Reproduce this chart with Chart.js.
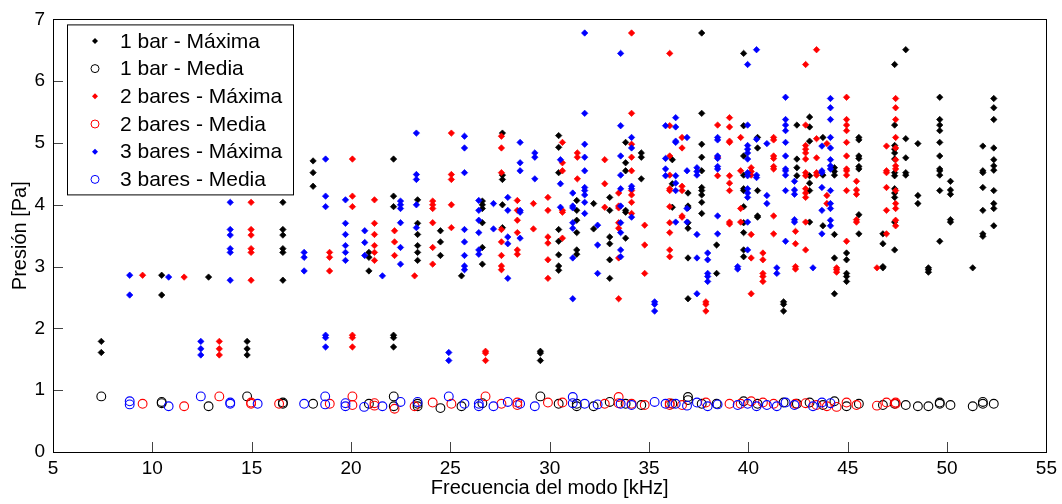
<!DOCTYPE html>
<html>
<head>
<meta charset="utf-8">
<script src="https://cdn.jsdelivr.net/npm/chart.js@4.4.1/dist/chart.umd.min.js"></script>
<style>
  body { margin: 0; background: #fff; }
  #wrap { width: 1062px; height: 504px; }
</style>
</head>
<body>
<div id="wrap"><canvas id="chart" width="1062" height="504"></canvas></div>
<script>
// each column: [frecuencia kHz, presiones Pa...]
const bar1MaxCols = [
  [7.43, 1.79, 1.61],
  [10.47, 2.86, 2.54],
  [12.83, 2.83],
  [14.77, 1.79, 1.67, 1.57],
  [16.57, 4.04, 3.60, 3.51, 3.29, 3.23, 2.78],
  [18.09, 4.71, 4.52, 4.30],
  [20.90, 3.23, 3.15, 2.93],
  [22.14, 4.74, 4.14, 3.97, 1.89, 1.85, 1.70],
  [23.35, 4.08, 3.70, 3.52, 3.34, 3.23, 3.10],
  [24.50, 3.58, 3.40, 3.18],
  [25.56, 2.85],
  [26.61, 4.06, 4.00, 3.94, 3.71, 3.31, 3.04],
  [27.62, 5.16, 4.48, 4.41, 4.00, 3.63],
  [29.53, 1.63, 1.60, 1.48],
  [30.45, 5.12, 4.93, 4.52, 3.60, 3.41, 3.19, 3.01, 2.94],
  [31.36, 4.07, 3.91, 3.75, 3.55, 3.27, 3.20],
  [32.21, 4.02, 3.61],
  [33.02, 4.12, 3.91, 3.48, 3.37, 3.11, 2.81],
  [33.82, 5.01, 4.68, 4.55, 3.91, 3.88, 3.46],
  [34.61, 4.84, 4.77, 4.42],
  [36.17, 4.73, 4.34, 3.96],
  [36.96, 4.19, 3.98, 3.95, 3.71, 3.62, 3.14, 2.48],
  [37.65, 6.78, 5.48, 4.98, 4.77, 4.55, 4.28, 4.23, 4.16, 4.04, 3.86],
  [38.40, 3.35, 2.89],
  [39.76, 6.45, 5.28, 4.79, 4.48, 4.26, 4.23, 3.97, 3.71, 3.55, 3.27, 3.16],
  [40.46, 5.09, 4.92, 4.23, 3.82, 3.80],
  [41.77, 2.43, 2.39, 2.28],
  [42.44, 5.29, 4.74, 4.60, 4.47],
  [43.08, 5.42, 5.26, 5.03, 4.47, 4.35, 4.23, 3.72],
  [43.75, 5.09, 4.48, 3.66],
  [44.33, 4.60, 4.54, 4.48, 3.52, 3.14, 2.56],
  [44.94, 3.22, 3.11, 2.89, 2.84, 2.76],
  [45.56, 5.09, 5.05, 4.79, 4.75, 4.62, 4.58, 3.84, 3.53],
  [46.77, 3.53, 3.37, 3.00, 2.98],
  [47.36, 6.27, 5.29, 4.96, 4.90, 4.84, 4.74, 4.52, 4.47, 4.26, 4.19, 4.12, 3.72, 3.27],
  [47.92, 6.51, 5.07, 4.76, 4.52, 4.48],
  [48.53, 4.99, 4.15, 4.02],
  [49.06, 2.98, 2.95, 2.91],
  [49.63, 5.74, 5.38, 5.29, 5.20, 5.01, 4.79, 4.58, 4.55, 4.48, 4.23, 3.41],
  [50.17, 4.38, 4.24, 4.17, 3.76, 3.72],
  [51.29, 2.98],
  [51.80, 4.95, 4.55, 4.52, 4.28, 3.91, 3.53, 3.49],
  [52.35, 5.72, 5.57, 5.38, 4.92, 4.73, 4.63, 4.56, 4.23, 4.02, 3.94, 3.66]
];

const bar2MaxCols = [
  [9.51, 2.86],
  [11.60, 2.83],
  [13.37, 1.79, 1.67, 1.57],
  [14.97, 4.04, 3.60, 3.51, 3.29, 3.23, 2.78],
  [18.92, 3.23, 3.15, 2.93],
  [20.07, 4.74, 4.14, 3.97, 1.89, 1.85, 1.70],
  [21.18, 4.08, 3.70, 3.52, 3.34, 3.23, 3.10],
  [22.19, 3.58, 3.40, 3.18],
  [23.20, 2.85],
  [24.11, 4.06, 4.00, 3.94, 3.71, 3.31, 3.04],
  [25.05, 5.16, 4.49, 4.41, 4.00, 3.63],
  [26.77, 1.63, 1.60, 1.48],
  [27.57, 5.11, 4.92, 4.52, 3.60, 3.40, 3.18, 3.01, 2.95],
  [28.37, 4.07, 3.91, 3.75, 3.55, 3.27, 3.20],
  [29.18, 4.02, 3.61],
  [29.91, 4.12, 3.91, 3.48, 3.38, 3.11, 2.81],
  [30.64, 5.01, 4.68, 4.55, 3.91, 3.88, 3.46],
  [31.39, 4.84, 4.77, 4.42],
  [32.77, 4.73, 4.34, 3.96],
  [33.47, 4.19, 3.98, 3.95, 3.71, 3.62, 3.14, 2.48],
  [34.12, 6.78, 5.48, 4.98, 4.77, 4.55, 4.23, 4.16, 4.04, 3.86],
  [34.78, 3.67, 3.35, 2.89],
  [36.04, 6.45, 5.28, 4.79, 4.48, 4.26, 4.23, 3.97, 3.71, 3.55, 3.27, 3.16],
  [36.66, 5.09, 4.92, 4.30, 4.23, 3.82, 3.80],
  [37.86, 2.43, 2.39, 2.28],
  [38.45, 5.29, 4.77, 4.47],
  [39.05, 5.41, 5.26, 5.03, 5.01, 4.47, 4.35, 4.23, 3.72, 3.69],
  [39.61, 5.09, 4.55, 3.94, 3.72],
  [40.14, 4.60, 4.54, 4.48, 3.52, 3.14, 2.56],
  [40.73, 3.22, 3.11, 2.89, 2.84, 2.76],
  [41.27, 5.09, 5.05, 4.79, 4.75, 4.62, 4.58, 3.82, 3.53],
  [42.37, 3.57, 3.37, 3.00, 2.96],
  [42.88, 6.27, 5.29, 4.96, 4.90, 4.84, 4.74, 4.52, 4.47, 4.26, 4.19, 4.12, 3.72, 3.27],
  [43.43, 6.51, 5.07, 4.76, 4.52, 4.48],
  [43.95, 4.99, 4.15, 4.02],
  [44.44, 2.98, 2.95, 2.91],
  [44.94, 5.74, 5.38, 5.29, 5.20, 5.01, 4.79, 4.58, 4.55, 4.48, 4.23, 3.41],
  [45.44, 4.38, 4.24, 4.17, 3.76, 3.72],
  [46.47, 2.98],
  [46.95, 4.95, 4.55, 4.52, 4.28, 3.91, 3.53],
  [47.41, 5.72, 5.57, 5.38, 5.09, 4.92, 4.73, 4.63, 4.58, 4.23, 4.02, 3.94, 3.75, 3.66]
];

const bar3MaxCols = [
  [8.86, 2.86, 2.54],
  [10.82, 2.83],
  [12.44, 1.79, 1.67, 1.57],
  [13.92, 4.04, 3.60, 3.51, 3.29, 3.23, 2.78],
  [17.64, 3.23, 3.15, 2.93],
  [18.72, 4.74, 4.14, 3.97, 1.89, 1.85, 1.70],
  [19.72, 4.08, 3.70, 3.52, 3.34, 3.23, 3.10],
  [20.69, 3.58, 3.39, 3.18],
  [21.58, 2.85],
  [22.49, 4.06, 4.00, 3.94, 3.71, 3.31, 3.04],
  [23.29, 5.16, 4.49, 4.41, 4.00, 3.63],
  [24.92, 1.61, 1.48],
  [25.71, 5.11, 4.92, 4.52, 3.60, 3.40, 3.18, 3.01, 2.95],
  [26.43, 4.07, 3.91, 3.75, 3.55, 3.27, 3.20],
  [27.17, 4.02, 3.61],
  [27.89, 4.12, 3.91, 3.48, 3.37, 2.81],
  [28.51, 5.01, 4.68, 4.55, 3.91, 3.88, 3.46],
  [29.25, 4.84, 4.77, 4.42],
  [30.54, 4.73, 4.34, 3.96],
  [31.16, 4.19, 3.98, 3.95, 3.71, 3.62, 3.14, 2.48],
  [31.76, 6.78, 5.48, 4.98, 4.77, 4.55, 4.28, 4.23, 4.16, 4.04, 3.86],
  [32.41, 3.67, 3.35, 2.89],
  [33.57, 6.45, 5.28, 4.79, 4.48, 4.26, 3.98, 3.71, 3.55, 3.27, 3.16],
  [34.12, 5.09, 4.92, 4.30, 4.26, 3.80],
  [35.28, 2.43, 2.39, 2.28],
  [35.83, 5.28, 4.75, 4.58, 4.47],
  [36.34, 5.41, 5.26, 5.03, 5.01, 4.47, 4.35, 4.23, 3.72],
  [36.91, 5.09, 4.55, 3.94, 3.72],
  [37.41, 4.60, 4.54, 4.48, 3.52, 3.14, 2.56],
  [37.95, 3.22, 3.11, 2.89, 2.84, 2.76],
  [38.45, 5.09, 5.05, 4.79, 4.75, 4.62, 4.58, 3.82, 3.53],
  [39.46, 3.00, 2.96],
  [39.96, 6.27, 5.29, 4.96, 4.90, 4.84, 4.74, 4.52, 4.47, 4.26, 4.19, 4.12, 3.72, 3.27],
  [40.41, 6.51, 5.06, 4.48, 4.44],
  [40.93, 4.99, 4.15, 4.02],
  [41.43, 2.98, 2.89],
  [41.87, 5.74, 5.38, 5.29, 5.20, 5.01, 4.79, 4.58, 4.55, 4.48, 4.23, 3.41],
  [42.32, 4.38, 4.24, 4.17, 3.76, 3.72],
  [43.25, 2.98],
  [43.70, 4.95, 4.55, 4.52, 4.28, 3.91, 3.53],
  [44.13, 5.72, 5.57, 5.38, 5.09, 4.92, 4.73, 4.63, 4.58, 4.23, 4.02, 3.94, 3.75, 3.66]
];

// medias: frecuencia y presion por punto
const bar1MediaFreq = [7.43, 10.47, 10.47, 12.83, 14.77, 16.57, 16.57, 18.09, 20.90, 22.15, 22.15, 23.35, 23.35, 24.50, 25.56, 26.61, 29.53, 30.45, 31.36, 31.36, 32.21, 33.02, 33.82, 34.61, 36.17, 36.96, 36.96, 37.65, 38.40, 39.76, 40.46, 41.77, 42.44, 43.08, 43.75, 44.33, 44.94, 45.56, 46.77, 47.36, 47.92, 48.53, 49.06, 49.63, 49.63, 50.17, 51.29, 51.80, 51.80, 52.35];
const bar1MediaPres = [0.90, 0.81, 0.79, 0.74, 0.90, 0.80, 0.78, 0.78, 0.78, 0.90, 0.74, 0.78, 0.74, 0.71, 0.74, 0.79, 0.90, 0.78, 0.78, 0.74, 0.74, 0.81, 0.78, 0.76, 0.78, 0.89, 0.84, 0.78, 0.78, 0.82, 0.78, 0.80, 0.78, 0.80, 0.76, 0.82, 0.74, 0.78, 0.76, 0.78, 0.76, 0.74, 0.74, 0.80, 0.78, 0.76, 0.74, 0.81, 0.78, 0.78];

const bar2MediaFreq = [9.51, 11.60, 13.37, 14.97, 14.97, 16.38, 18.93, 20.07, 20.07, 21.18, 21.18, 22.19, 23.20, 24.11, 25.05, 26.77, 27.57, 28.37, 28.37, 29.91, 30.64, 32.77, 33.47, 33.47, 34.12, 34.78, 36.04, 36.04, 36.66, 37.86, 39.05, 39.61, 40.14, 40.73, 41.27, 42.37, 42.88, 43.43, 43.95, 44.44, 44.94, 45.44, 46.47, 46.95, 47.41, 47.41];
const bar2MediaPres = [0.78, 0.74, 0.90, 0.80, 0.78, 0.78, 0.78, 0.90, 0.76, 0.79, 0.75, 0.70, 0.74, 0.80, 0.78, 0.90, 0.78, 0.80, 0.76, 0.80, 0.80, 0.78, 0.89, 0.79, 0.78, 0.76, 0.79, 0.76, 0.76, 0.80, 0.78, 0.78, 0.82, 0.80, 0.78, 0.78, 0.79, 0.76, 0.74, 0.73, 0.80, 0.76, 0.75, 0.80, 0.80, 0.78];

const bar3MediaFreq = [8.86, 8.86, 10.82, 12.44, 13.92, 13.92, 15.30, 17.64, 18.70, 18.70, 19.72, 19.72, 20.66, 21.58, 22.49, 23.35, 24.92, 25.71, 26.43, 26.43, 27.17, 27.89, 28.51, 29.25, 31.16, 31.16, 31.76, 32.41, 33.57, 34.12, 35.28, 35.83, 36.34, 36.91, 37.41, 37.95, 38.45, 39.46, 39.96, 40.41, 40.93, 41.43, 41.87, 42.32, 43.25, 43.70, 44.13];
const bar3MediaPres = [0.82, 0.77, 0.74, 0.90, 0.80, 0.78, 0.78, 0.78, 0.90, 0.77, 0.79, 0.74, 0.73, 0.74, 0.81, 0.81, 0.90, 0.78, 0.78, 0.74, 0.74, 0.81, 0.78, 0.74, 0.89, 0.79, 0.78, 0.77, 0.78, 0.76, 0.81, 0.78, 0.78, 0.75, 0.80, 0.74, 0.77, 0.76, 0.78, 0.74, 0.76, 0.74, 0.80, 0.76, 0.74, 0.80, 0.79];

const seriesLabels = ['1 bar - Máxima', '1 bar - Media', '2 bares - Máxima', '2 bares - Media', '3 bares - Máxima', '3 bares - Media'];
const xTicks = [5, 10, 15, 20, 25, 30, 35, 40, 45, 50, 55];
const yTicks = [0, 1, 2, 3, 4, 5, 6, 7];

const colsToPoints = cols => cols.flatMap(c => c.slice(1).map(p => ({ x: c[0], y: p })));
const pairsToPoints = (xs, ys) => xs.map((x, i) => ({ x: x, y: ys[i] }));

function maxSet(label, color, cols, order) {
  return {
    label, data: colsToPoints(cols), order,
    pointStyle: 'rectRot', pointRadius: 3.2, pointBorderWidth: 0.7,
    backgroundColor: color, borderColor: color, isMax: true
  };
}
function mediaSet(label, color, xs, ys, order) {
  return {
    label, data: pairsToPoints(xs, ys), order,
    pointStyle: 'circle', pointRadius: 4.4, pointBorderWidth: 1.1,
    backgroundColor: 'rgba(0,0,0,0)', borderColor: color, isMax: false
  };
}

// ticks hacia dentro y caja del eje, estilo matlab
const boxAxes = {
  id: 'boxAxes',
  beforeDatasetsDraw(chart) {
    const { ctx, chartArea: a, scales: { x, y } } = chart;
    ctx.save();
    ctx.strokeStyle = '#444';
    ctx.lineWidth = 1;
    ctx.beginPath();
    xTicks.forEach(v => {
      const px = Math.round(x.getPixelForValue(v)) + 0.5;
      ctx.moveTo(px, a.bottom);
      ctx.lineTo(px, a.bottom - 10);
    });
    yTicks.forEach(v => {
      const py = Math.round(y.getPixelForValue(v)) + 0.5;
      ctx.moveTo(a.left, py);
      ctx.lineTo(a.left + 10, py);
    });
    ctx.stroke();
    ctx.strokeStyle = '#000';
    ctx.strokeRect(Math.round(a.left) + 0.5, Math.round(a.top) + 0.5,
      Math.round(a.right - a.left), Math.round(a.bottom - a.top));
    ctx.restore();
  }
};

const boxLegend = {
  id: 'boxLegend',
  afterDraw(chart) {
    const { ctx, chartArea: a } = chart;
    const left = a.left + 14, top = a.top + 5, w = 226, h = 170;
    ctx.save();
    ctx.fillStyle = '#fff';
    ctx.fillRect(left, top, w, h);
    ctx.strokeStyle = '#000';
    ctx.lineWidth = 1;
    ctx.strokeRect(left + 0.5, top + 0.5, w, h);
    ctx.font = '21px "Liberation Sans", Arial, sans-serif';
    ctx.textBaseline = 'middle';
    chart.data.datasets.forEach((ds, i) => {
      const cy = top + 16.5 + i * 27.7;
      const mx = left + 28;
      ctx.fillStyle = ds.borderColor;
      ctx.strokeStyle = ds.borderColor;
      ctx.beginPath();
      if (ds.isMax) {
        ctx.moveTo(mx, cy - 3); ctx.lineTo(mx + 3, cy); ctx.lineTo(mx, cy + 3); ctx.lineTo(mx - 3, cy);
        ctx.closePath();
        ctx.fill();
      } else {
        ctx.arc(mx, cy, 4, 0, Math.PI * 2);
        ctx.stroke();
      }
      ctx.fillStyle = '#000';
      ctx.fillText(ds.label, left + 53, cy + 1);
    });
    ctx.restore();
  }
};

Chart.defaults.font.family = '"Liberation Sans", Arial, sans-serif';
Chart.defaults.color = '#000';

new Chart(document.getElementById('chart'), {
  type: 'scatter',
  data: {
    datasets: [
      maxSet(seriesLabels[0], '#000000', bar1MaxCols, 6),
      mediaSet(seriesLabels[1], '#000000', bar1MediaFreq, bar1MediaPres, 5),
      maxSet(seriesLabels[2], '#ff0000', bar2MaxCols, 4),
      mediaSet(seriesLabels[3], '#ff0000', bar2MediaFreq, bar2MediaPres, 3),
      maxSet(seriesLabels[4], '#0000ff', bar3MaxCols, 2),
      mediaSet(seriesLabels[5], '#0000ff', bar3MediaFreq, bar3MediaPres, 1)
    ]
  },
  options: {
    responsive: false,
    animation: false,
    events: [],
    layout: { padding: { top: 16, right: 15, left: 0, bottom: 0 } },
    plugins: { legend: { display: false }, tooltip: { enabled: false } },
    scales: {
      x: {
        type: 'linear', min: 5, max: 55,
        afterBuildTicks: s => { s.ticks = xTicks.map(v => ({ value: v })); },
        afterFit: s => { s.height = 52; },
        grid: { display: false, drawTicks: false },
        border: { display: false },
        ticks: { font: { size: 19 }, padding: 5, maxRotation: 0 },
        title: { display: true, text: 'Frecuencia del modo [kHz]', font: { size: 20 }, padding: { top: 0, bottom: 4 } }
      },
      y: {
        type: 'linear', min: 0, max: 7,
        afterBuildTicks: s => { s.ticks = yTicks.map(v => ({ value: v })); },
        afterFit: s => { s.width = 53; },
        grid: { display: false, drawTicks: false },
        border: { display: false },
        ticks: { font: { size: 19 }, padding: 8 },
        title: { display: true, text: 'Presión [Pa]', font: { size: 20 }, padding: { top: 8, bottom: 0 } }
      }
    }
  },
  plugins: [boxAxes, boxLegend]
});
</script>
</body>
</html>
